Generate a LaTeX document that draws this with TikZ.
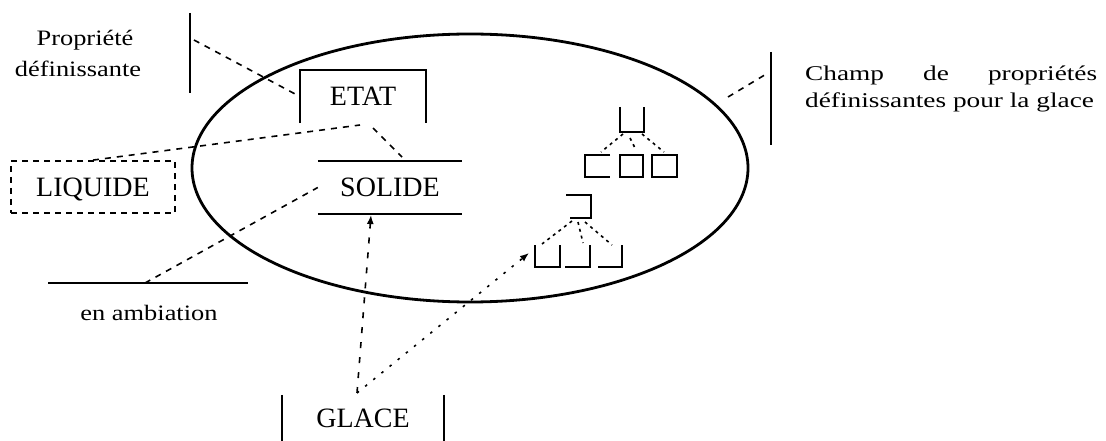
\documentclass[tikz,border=0pt]{standalone}
\usepackage{fontspec}
\setmainfont{Liberation Serif}
\newfontfamily\widefont[FakeStretch=1.2]{Liberation Serif}
\newfontfamily\widerfont[FakeStretch=1.3]{Liberation Serif}
\usetikzlibrary{shapes.geometric,arrows.meta}
\begin{document}
\begin{tikzpicture}[x=1pt,y=-1pt,
  solidline/.style={line width=2.4pt},
  dashline/.style={line width=1.6pt, dash pattern=on 6pt off 6pt},
  dotline/.style={line width=1.6pt, dash pattern=on 3pt off 4pt},
  vdashline/.style={line width=1.6pt, dash pattern=on 6pt off 9pt},
  sparseline/.style={line width=1.6pt, dash pattern=on 2.5pt off 8pt},
  bigtext/.style={font=\fontsize{28}{30}\selectfont, inner sep=0pt, text depth=0pt},
  smalltext/.style={font=\widefont\fontsize{22}{26}\selectfont, inner sep=0pt},
  righttext/.style={font=\widerfont\fontsize{21}{26}\selectfont, inner sep=0pt},
  tip/.style={-{Latex[length=9pt,width=7pt]}}
]
\useasboundingbox (0,0) rectangle (1106,441);

% ellipse (champ)
\node[draw, ellipse, line width=2.8pt, minimum width=556pt, minimum height=268pt, inner sep=0pt] (champ) at (470,168) {};

% Propriete definissante
\node[smalltext, anchor=base] (prop1) at (85,46) {Propriété};
\node[smalltext, anchor=base] (prop2) at (78,77) {définissante};
\coordinate (propbarT) at (190,13);
\coordinate (propbarB) at (190,93);
\draw[solidline] (propbarT) -- (propbarB);
\coordinate (propbarM) at (194,40);

% ETAT (three-sided box)
\node[bigtext, minimum width=126pt, minimum height=53pt] (etat) at (363,96.5) {ETAT};
\draw[solidline] (etat.south west) -- (etat.north west) -- (etat.north east) -- (etat.south east);

% SOLIDE (two horizontal lines)
\node[bigtext, minimum width=144pt, minimum height=53pt] (solide) at (390,187.5) {SOLIDE};
\draw[solidline] (solide.north west) -- (solide.north east);
\draw[solidline] (solide.south west) -- (solide.south east);

% LIQUIDE dashed box
\node[bigtext, draw, line width=1.8pt, dash pattern=on 6pt off 5pt, minimum width=164pt, minimum height=52pt] (liquide) at (93,187) {LIQUIDE};

% en ambiation
\coordinate (ambL) at (48,283);
\coordinate (ambR) at (248,283);
\coordinate (ambM) at (145,283);
\draw[solidline] (ambL) -- (ambR);
\node[smalltext, anchor=base] (amb) at (149,320) {en ambiation};

% GLACE
\node[bigtext, minimum width=162pt, minimum height=46pt] (glace) at (363,418) {GLACE};
\draw[solidline] (glace.north west) -- (glace.south west);
\draw[solidline] (glace.north east) -- (glace.south east);
\coordinate (gtop) at (357,393);

% right text
\coordinate (rbarT) at (771,52);
\coordinate (rbarB) at (771,145);
\draw[solidline] (rbarT) -- (rbarB);
\node[righttext, anchor=base west] (champ1) at (805,81) {\makebox[292pt][s]{Champ\hfill de\hfill propriétés}};
\node[righttext, anchor=base west] (champ2) at (805,108) {définissantes pour la glace};
\coordinate (rbarM) at (768,73);
\coordinate (champE) at (728,97);

% tree 1
\draw[solidline] (620,107) -- (620,132) -- (644,132) -- (644,107);
\draw[solidline] (610,155) -- (585,155) -- (585,177) -- (610,177);
\draw[solidline] (620,155) rectangle (643,177);
\draw[solidline] (652,155) rectangle (677,177);
\coordinate (t1r1) at (623,134); \coordinate (t1c1) at (601,152);
\coordinate (t1r2) at (630,138); \coordinate (t1c2) at (635,148);
\coordinate (t1r3) at (642,134); \coordinate (t1c3) at (664,152);
\draw[dotline] (t1r1) -- (t1c1);
\draw[dotline] (t1r2) -- (t1c2);
\draw[dotline] (t1r3) -- (t1c3);

% tree 2
\draw[solidline] (566,195) -- (591,195) -- (591,218) -- (570,218);
\draw[solidline] (535,245) -- (535,267) -- (560,267) -- (560,245);
\draw[solidline] (565,267) -- (590,267) -- (590,245);
\draw[solidline] (598,267) -- (622,267) -- (622,245);
\coordinate (t2r1) at (572,221); \coordinate (t2c1) at (542,244);
\coordinate (t2r2) at (578,222); \coordinate (t2c2) at (583,243);
\coordinate (t2r3) at (585,222); \coordinate (t2c3) at (612,245);
\draw[dotline] (t2r1) -- (t2c1);
\draw[dotline] (t2r2) -- (t2c2);
\draw[dotline] (t2r3) -- (t2c3);
\coordinate (t2in) at (529,253);

% connectors
\draw[dashline] (propbarM) -- (etat.west);
\coordinate (etatIn) at (360,125);
\draw[dashline] (liquide.north) -- (etatIn);
\coordinate (etatOut) at (373,128);
\coordinate (solideIn) at (402,157);
\draw[dashline] (etatOut) -- (solideIn);
\draw[dashline] (ambM) -- (solide.west);
\draw[dashline] (champE) -- (rbarM);
\coordinate (solideBot) at (371,215);
\draw[vdashline, tip] (gtop) -- (solideBot);
\draw[sparseline, tip] (gtop) -- (t2in);
\end{tikzpicture}
\end{document}
